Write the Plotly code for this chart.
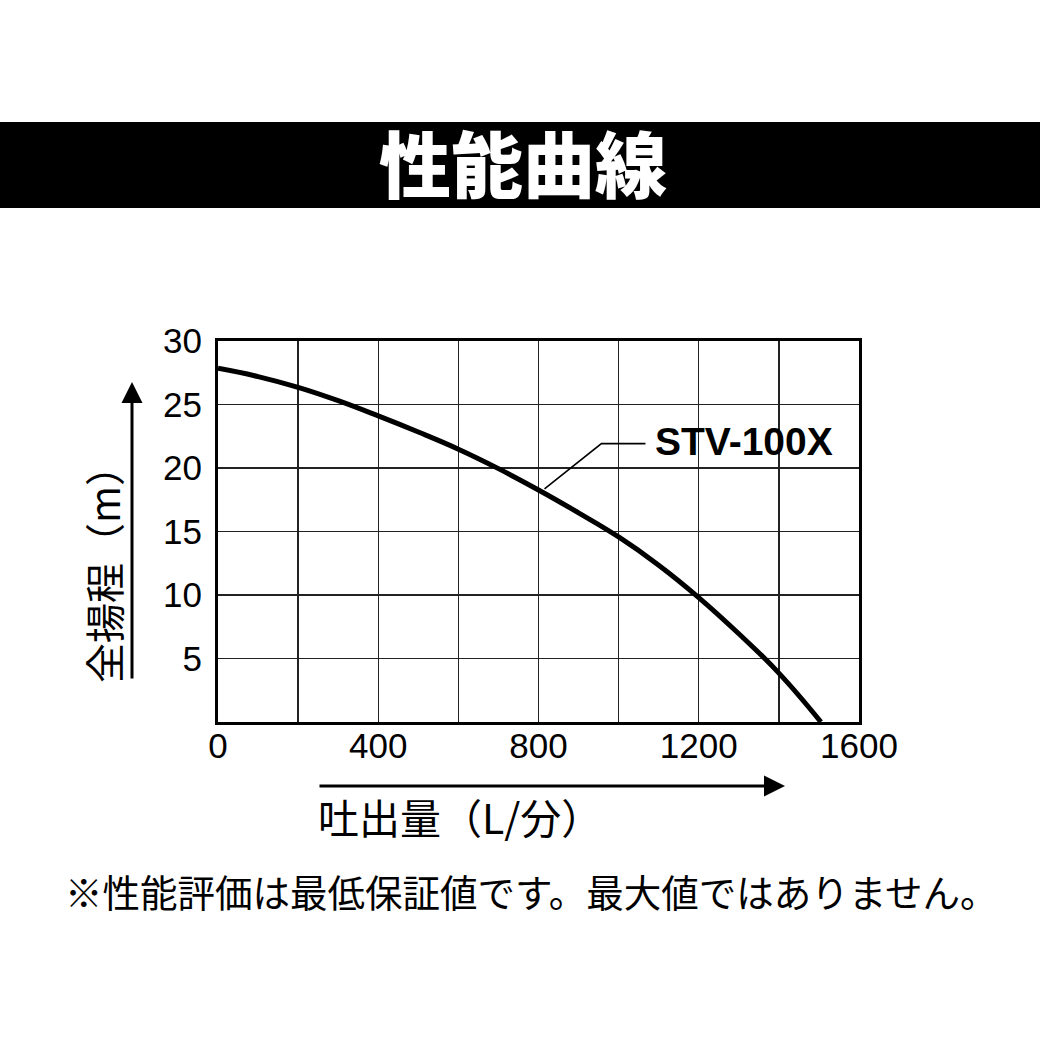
import plotly.graph_objects as go

# ---- data ----
flow = [0, 100, 200, 300, 400, 500, 600, 700, 800, 900, 1000, 1100, 1200, 1300, 1400, 1505]   # L/min
head = [27.85, 27.2, 26.35, 25.3, 24.1, 22.83, 21.48, 19.95, 18.27, 16.47, 14.57, 12.35, 9.8, 6.95, 3.85, 0.0]  # m
series_name = "STV-100X"
x_tick_vals = [0, 200, 400, 600, 800, 1000, 1200, 1400, 1600]
x_tick_text = ["0", "", "400", "", "800", "", "1200", "", "1600"]
y_tick_vals = [0, 5, 10, 15, 20, 25, 30]
y_tick_text = ["", "5", "10", "15", "20", "25", "30"]
title_text = "性能曲線"
x_title = "吐出量（L/分）"
y_title = "全揚程（m）"
footnote = "※性能評価は最低保証値です。最大値ではありません。"

W, H = 1040, 1040
L, R, T, B = 218, 859, 341, 722  # plot area in page px
pw, ph = R - L, B - T

def px(xp):
    return (xp - L) / pw

def py(yp):
    return (B - yp) / ph

LATIN = "Liberation Sans, Arial, sans-serif"
CJK = "Noto Sans CJK JP, sans-serif"

fig = go.Figure()
fig.add_trace(go.Scatter(
    x=flow, y=head, mode="lines", name=series_name,
    line=dict(color="black", width=5, shape="spline", smoothing=1.2),
    showlegend=False, hoverinfo="skip",
))

fig.update_layout(
    width=W, height=H,
    margin=dict(l=L, r=W - R, t=T, b=H - B),
    paper_bgcolor="white", plot_bgcolor="white",
    hovermode=False,
    xaxis=dict(range=[0, 1600], tickvals=x_tick_vals, ticktext=x_tick_text,
               showgrid=True, gridcolor="#222", gridwidth=1.3,
               showline=True, linecolor="black", linewidth=3, mirror=True,
               ticks="", zeroline=False, ticklabelstandoff=-9,
               tickfont=dict(family=LATIN, size=35, color="black")),
    yaxis=dict(range=[0, 30], tickvals=y_tick_vals, ticktext=y_tick_text,
               showgrid=True, gridcolor="#222", gridwidth=1.3,
               showline=True, linecolor="black", linewidth=3, mirror=True,
               ticks="", zeroline=False, ticklabelstandoff=6,
               tickfont=dict(family=LATIN, size=35, color="black")),
)

shapes = [
    # title band
    dict(type="rect", xref="paper", yref="paper",
         x0=px(-10), x1=px(1050), y0=py(208), y1=py(122),
         fillcolor="black", line=dict(width=0), layer="above"),
    # leader line for label
    dict(type="path", xref="x", yref="y",
         path="M 815,18.35 L 957,21.92 L 1067,21.92",
         line=dict(color="black", width=1.6)),
]
fig.update_layout(shapes=shapes)

annotations = [
    dict(text=title_text, xref="paper", yref="paper", x=px(523), y=py(160),
         showarrow=False, xanchor="center", yanchor="middle",
         font=dict(family=CJK, size=72, color="white", weight=900)),
    dict(text=series_name, xref="x", yref="y", x=1312, y=22.1,
         showarrow=False, xanchor="center", yanchor="middle",
         font=dict(family=LATIN, size=39, color="black", weight="bold")),
    # x arrow
    dict(text="", xref="paper", yref="paper", x=px(785), y=py(786),
         ax=318 - 785, ay=0, axref="pixel", ayref="pixel",
         showarrow=True, arrowhead=2, arrowsize=1.4, arrowwidth=3, arrowcolor="black"),
    # y arrow
    dict(text="", xref="paper", yref="paper", x=px(132), y=py(382),
         ax=0, ay=680 - 382, axref="pixel", ayref="pixel",
         showarrow=True, arrowhead=2, arrowsize=1.4, arrowwidth=3, arrowcolor="black"),
    dict(text=x_title, xref="paper", yref="paper", x=px(316), y=py(816),
         showarrow=False, xanchor="left", yanchor="middle",
         font=dict(family=CJK, size=41, color="black")),
    dict(text=y_title, xref="paper", yref="paper", x=px(103), y=py(564),
         showarrow=False, xanchor="center", yanchor="middle", textangle=-90,
         font=dict(family=CJK, size=40, color="black")),
    dict(text=footnote, xref="paper", yref="paper", x=px(531), y=py(890),
         showarrow=False, xanchor="center", yanchor="middle",
         font=dict(family=CJK, size=37.5, color="black")),
]
fig.update_layout(annotations=annotations)

fig.write_html(
    "out.html",
    config={"displayModeBar": False, "staticPlot": True},
    post_script="document.body.style.margin='0';document.body.style.overflow='hidden';",
)
